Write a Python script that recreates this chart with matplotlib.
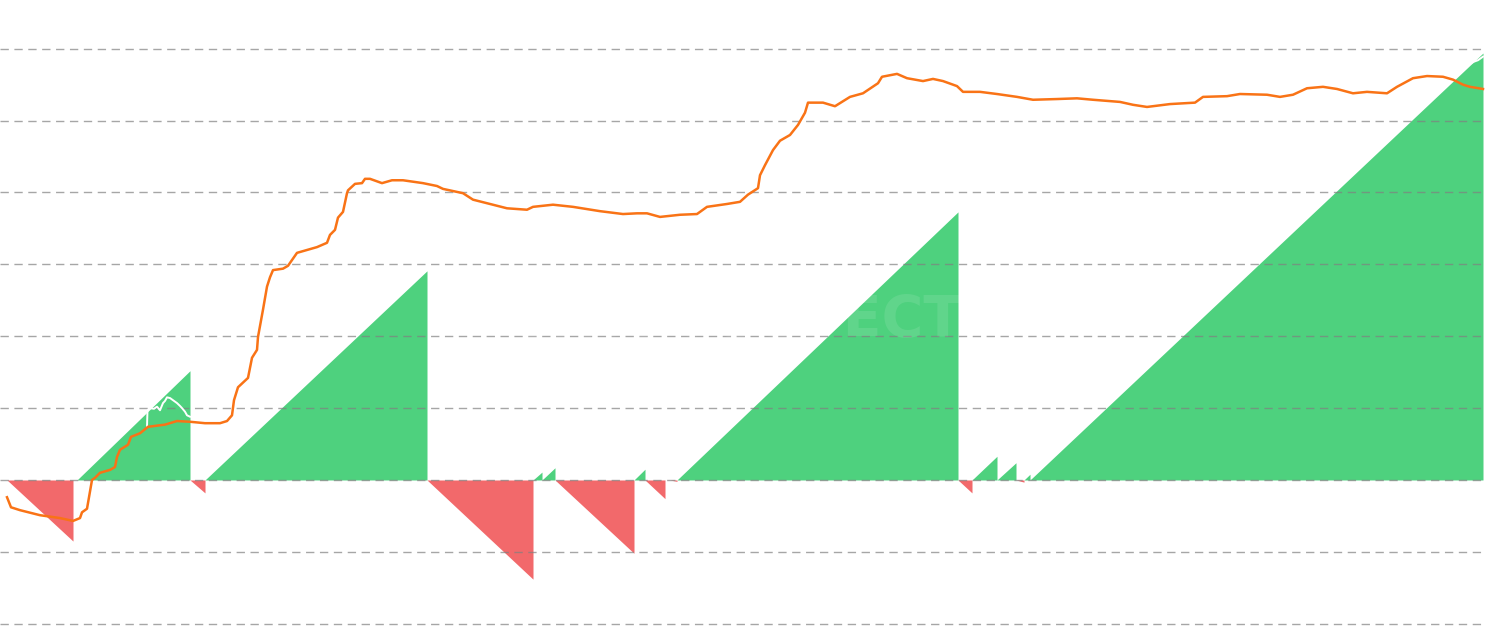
import numpy as np
import matplotlib
matplotlib.use("Agg")
import matplotlib.pyplot as plt

# streak segments: start bar, end bar, value reached at the end
streak_start = [7, 77, 190, 205, 427, 533, 542, 555, 634, 645, 670, 677, 958, 972, 997, 1016, 1024, 1030]
streak_end = [73, 190, 205, 427, 533, 542, 555, 634, 645, 665, 677, 958, 972, 997, 1016, 1024, 1030, 1483]
streak_peak = [-0.85, 1.52, -0.18, 2.91, -1.38, 0.11, 0.17, -1.02, 0.15, -0.26, -0.02,
               3.73, -0.18, 0.33, 0.24, -0.03, 0.08, 5.94]

# orange line
line_x = [7, 11, 20, 40, 60, 73, 80, 82, 87, 89, 92, 95, 100, 110, 115, 117, 120, 128, 131,
          140, 148, 165, 177, 190, 205, 220, 227, 232, 234, 238, 248, 252, 257, 258, 263,
          267, 270, 273, 283, 288, 297, 307, 317, 327, 330, 335, 338, 343, 347, 348, 355,
          362, 365, 370, 382, 392, 403, 423, 437, 443, 463, 473, 493, 507, 527, 533, 553,
          573, 600, 623, 637, 647, 660, 680, 697, 707, 727, 740, 748, 758, 760, 765, 773,
          780, 790, 798, 805, 808, 823, 835, 850, 863, 878, 882, 897, 907, 923, 933, 943,
          957, 963, 980, 997, 1017, 1033, 1057, 1077, 1093, 1120, 1133, 1147, 1170, 1195,
          1203, 1227, 1240, 1267, 1280, 1293, 1307, 1323, 1337, 1353, 1367, 1387, 1397,
          1413, 1427, 1443, 1453, 1463, 1470, 1483]
line_y = [-0.24, -0.38, -0.42, -0.49, -0.53, -0.57, -0.53, -0.45, -0.40, -0.24, 0.00, 0.03,
          0.10, 0.14, 0.18, 0.32, 0.42, 0.49, 0.60, 0.65, 0.74, 0.77, 0.82, 0.81, 0.79, 0.79,
          0.82, 0.90, 1.11, 1.29, 1.42, 1.70, 1.81, 1.99, 2.37, 2.69, 2.82, 2.92, 2.94, 2.98,
          3.16, 3.20, 3.24, 3.30, 3.41, 3.48, 3.65, 3.73, 3.99, 4.03, 4.12, 4.13, 4.19, 4.19,
          4.13, 4.17, 4.17, 4.13, 4.09, 4.05, 3.99, 3.90, 3.83, 3.78, 3.76, 3.80, 3.83, 3.80,
          3.74, 3.70, 3.71, 3.71, 3.66, 3.69, 3.70, 3.80, 3.84, 3.87, 3.97, 4.06, 4.24, 4.38,
          4.59, 4.72, 4.80, 4.94, 5.11, 5.25, 5.25, 5.20, 5.33, 5.38, 5.52, 5.61, 5.65, 5.59,
          5.55, 5.58, 5.55, 5.48, 5.40, 5.40, 5.37, 5.33, 5.29, 5.30, 5.31, 5.29, 5.26, 5.22,
          5.19, 5.23, 5.25, 5.33, 5.34, 5.37, 5.36, 5.33, 5.36, 5.45, 5.47, 5.44, 5.38, 5.40,
          5.38, 5.47, 5.59, 5.62, 5.61, 5.57, 5.50, 5.47, 5.44]

# white line (only visible where it crosses the green area)
white_x = [147, 147.5, 150, 154, 157, 160, 163, 165, 167, 170, 173, 177, 180, 182, 185, 187, 190,
           np.nan, 1460, 1465, 1470, 1474, 1478, 1483]
white_y = [0.74, 0.97, 1.00, 0.99, 1.02, 0.97, 1.07, 1.10, 1.15, 1.14, 1.11, 1.07, 1.03, 1.00,
           0.95, 0.90, 0.88, np.nan, 5.68, 5.75, 5.79, 5.82, 5.84, 5.89]

grid_levels = [-2, -1, 0, 1, 2, 3, 4, 5, 6]

GREEN = "#4ed17e"
RED = "#f2696b"
ORANGE = "#f97316"

fig = plt.figure(figsize=(14.9, 6.33), dpi=100)
ax = fig.add_axes([0, 0, 1, 1])
ax.set_xlim(0, 1490)
ax.set_ylim(-2.129, 6.678)
ax.axis("off")

# streak triangles
for s, e, p in zip(streak_start, streak_end, streak_peak):
    ax.fill_between([s, e], [0, 0], [0, p], color=GREEN if p > 0 else RED,
                    linewidth=0, zorder=1)

# dashed grid
ax.hlines(grid_levels, 0, 1485, colors="#808080", alpha=0.7, linewidth=1.0,
          linestyles=(0, (6.0, 4.0)), zorder=2)

# watermark
ax.text(962, 2.2, "CRYPTOSPECT", ha="right", va="center", fontsize=41,
        fontweight="bold", color="white", alpha=0.1, zorder=2)

ax.plot(white_x, white_y, color="white", linewidth=1.4, zorder=3)
ax.plot(line_x, line_y, color=ORANGE, linewidth=1.8, zorder=4)

fig.savefig("out.png", dpi=100)
